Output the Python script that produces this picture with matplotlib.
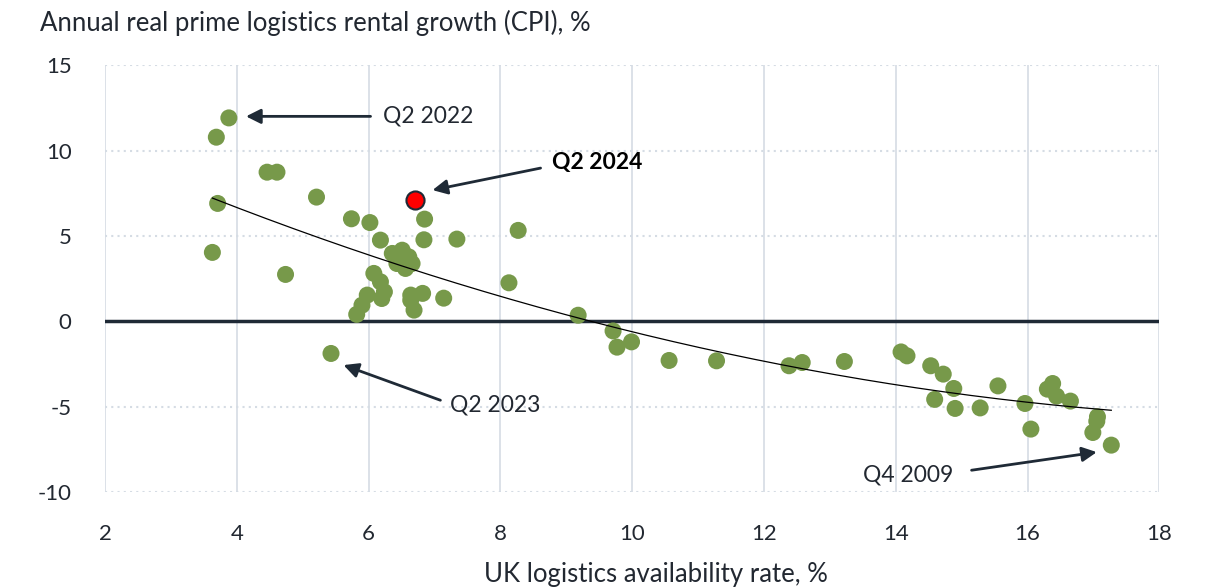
import matplotlib.pyplot as plt
import numpy as np

plt.rcParams['font.family'] = ['Lato', 'DejaVu Sans']

# Availability rate (%) vs real rental growth (%)
avail = [3.88, 3.69, 4.46, 4.61, 3.71, 5.21, 5.74, 6.02, 6.85, 3.63, 6.18, 6.84, 7.34,
         8.27, 4.74, 6.36, 6.51, 6.61, 6.43, 6.56, 6.66, 6.08, 6.18, 6.24, 5.98, 5.90,
         5.82, 6.20, 6.64, 6.64, 6.82, 7.14, 6.69, 8.13, 5.43, 9.18, 9.71, 9.77, 9.99,
         10.56, 11.28, 12.38, 12.58, 13.22, 14.08, 14.17, 14.53, 14.72, 14.88, 14.59,
         14.90, 15.28, 15.55, 15.96, 16.05, 16.30, 16.38, 16.44, 16.65, 17.06, 17.05,
         16.99, 17.27]
growth = [11.91, 10.78, 8.73, 8.73, 6.90, 7.27, 6.00, 5.78, 5.98, 4.03, 4.75, 4.77, 4.81,
          5.32, 2.74, 3.97, 4.16, 3.77, 3.38, 3.09, 3.38, 2.80, 2.31, 1.72, 1.53, 0.94,
          0.40, 1.33, 1.53, 1.23, 1.63, 1.35, 0.65, 2.25, -1.89, 0.35, -0.57, -1.52, -1.21,
          -2.30, -2.32, -2.61, -2.42, -2.36, -1.80, -2.03, -2.61, -3.10, -3.94, -4.58,
          -5.11, -5.08, -3.79, -4.82, -6.32, -3.98, -3.65, -4.39, -4.68, -5.60, -5.86,
          -6.52, -7.26]

latest_avail = [6.71]
latest_growth = [7.09]

x_ticks = [2, 4, 6, 8, 10, 12, 14, 16, 18]
y_ticks = [-10, -5, 0, 5, 10, 15]

green = '#77994a'
dark = '#1f2a36'
text_col = '#222831'
grid_col = '#d5dce4'

fig = plt.figure(figsize=(12.12, 5.87), dpi=100)
ax = fig.add_axes([0.0866, 0.162, 0.870, 0.727])

ax.set_xlim(2, 18)
ax.set_ylim(-10, 15)
ax.set_xticks(x_ticks)
ax.set_yticks(y_ticks)
ax.set_yticklabels([str(t) for t in y_ticks])
for s in ax.spines.values():
    s.set_visible(False)
ax.tick_params(length=0, labelsize=16, colors=text_col)
ax.tick_params(axis='y', pad=24)
ax.tick_params(axis='x', pad=23)

# gridlines
for xt in x_ticks:
    ax.axvline(xt, color=grid_col, lw=1.2, zorder=0)
for yt in y_ticks:
    if yt != 0:
        ax.axhline(yt, color=grid_col, lw=1.5, ls=(0, (1, 2)), zorder=0)
ax.axhline(0, color=dark, lw=2.5, zorder=1)

ax.scatter(avail, growth, s=150, color=green, edgecolors='none', zorder=3)

# polynomial trend line
coef = np.polyfit(avail, growth, 2)
xs = np.linspace(min(avail), max(avail), 200)
ax.plot(xs, np.polyval(coef, xs), color='black', lw=0.9, zorder=4)

ax.scatter(latest_avail, latest_growth, s=170, color='#ff0000', edgecolors=dark,
           linewidths=1.5, zorder=5)

arrow = dict(arrowstyle='-|>', color=dark, lw=2, mutation_scale=22, shrinkA=0, shrinkB=0)
ax.annotate('', xy=(4.14, 12.0), xytext=(6.03, 12.0), arrowprops=arrow)
ax.text(6.22, 12.0, 'Q2 2022', fontsize=16.5, va='center', ha='left', color=text_col)
ax.annotate('', xy=(6.97, 7.68), xytext=(8.61, 8.97), arrowprops=arrow)
ax.text(8.78, 9.32, 'Q2 2024', fontsize=16.5, va='center', ha='left', fontweight='bold',
        color='black')
ax.annotate('', xy=(5.62, -2.57), xytext=(7.09, -4.63), arrowprops=arrow)
ax.text(7.24, -4.92, 'Q2 2023', fontsize=16.5, va='center', ha='left', color=text_col)
ax.annotate('', xy=(17.05, -7.67), xytext=(15.15, -8.73), arrowprops=arrow)
ax.text(13.5, -9.02, 'Q4 2009', fontsize=16.5, va='center', ha='left', color=text_col)

fig.text(40 / 1212, 1 - 23 / 587, 'Annual real prime logistics rental growth (CPI), %',
         fontsize=18.5, va='center', ha='left', color=text_col)
ax.set_xlabel('UK logistics availability rate, %', fontsize=18.5, color=text_col)
ax.xaxis.set_label_coords(0.523, -0.165)

fig.savefig('out.png', dpi=100)
